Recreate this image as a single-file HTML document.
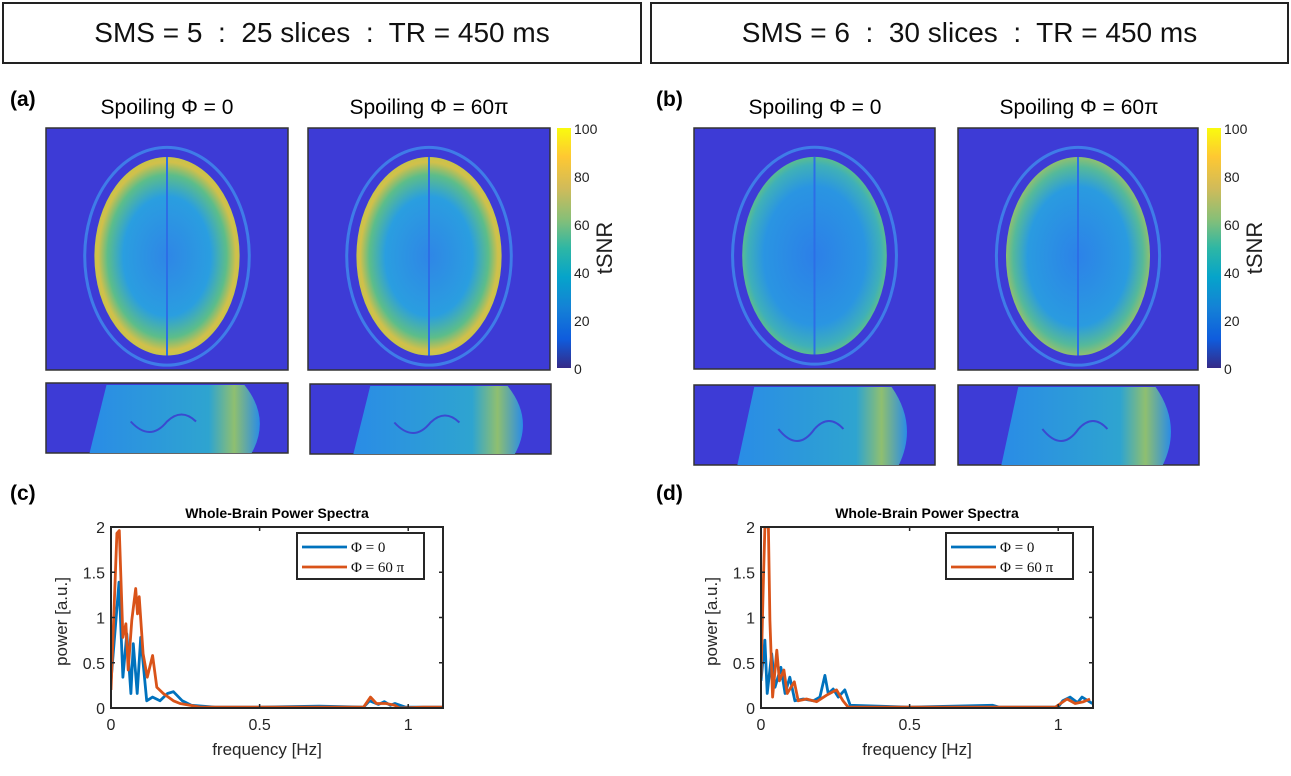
<!DOCTYPE html>
<html><head><meta charset="utf-8"><style>
body{margin:0;background:#fff;width:1291px;height:776px;overflow:hidden;font-family:"Liberation Sans",sans-serif;position:relative}
.hdr{position:absolute;top:2px;height:58px;border:2px solid #222;font-size:28px;display:flex;align-items:center;justify-content:center;white-space:pre;color:#111}
.lab{position:absolute;font-weight:bold;font-size:21px}
.st{position:absolute;font-size:21px;width:242px;text-align:center}
svg{position:absolute;left:0;top:0}
</style></head><body>
<div class="hdr" style="left:2px;width:636px">SMS = 5  :  25 slices  :  TR = 450 ms</div>
<div class="hdr" style="left:650px;width:635px">SMS = 6  :  30 slices  :  TR = 450 ms</div>
<div class="lab" style="left:10px;top:88px">(a)</div>
<div class="lab" style="left:656px;top:88px">(b)</div>
<div class="lab" style="left:10px;top:482px">(c)</div>
<div class="lab" style="left:656px;top:482px">(d)</div>
<div class="st" style="left:46px;top:96px">Spoiling Φ = 0</div>
<div class="st" style="left:308px;top:96px">Spoiling Φ = 60π</div>
<div class="st" style="left:694px;top:96px">Spoiling Φ = 0</div>
<div class="st" style="left:958px;top:96px">Spoiling Φ = 60π</div>
<svg id="s" width="1291" height="776" xmlns="http://www.w3.org/2000/svg" font-family="Liberation Sans, sans-serif">
<defs>
<linearGradient id="parula" x1="0" y1="1" x2="0" y2="0">
<stop offset="0" stop-color="#352a87"/><stop offset="0.12" stop-color="#0f5cdd"/><stop offset="0.25" stop-color="#1481d6"/><stop offset="0.38" stop-color="#06a4ca"/><stop offset="0.5" stop-color="#2eb7a4"/><stop offset="0.62" stop-color="#87bf77"/><stop offset="0.75" stop-color="#d1bb59"/><stop offset="0.88" stop-color="#fec832"/><stop offset="1" stop-color="#f9fb0e"/></linearGradient>
<radialGradient id="brainA"><stop offset="0" stop-color="#2f86e6"/><stop offset="0.6" stop-color="#2a9ee0"/><stop offset="0.82" stop-color="#5cbd8a"/><stop offset="0.95" stop-color="#d2c04a"/><stop offset="1" stop-color="#c8c44a"/></radialGradient>
<radialGradient id="brainB"><stop offset="0" stop-color="#2c7fe8"/><stop offset="0.7" stop-color="#2a95e2"/><stop offset="0.92" stop-color="#3fb0b8"/><stop offset="1" stop-color="#5abd90"/></radialGradient>
<radialGradient id="brainC"><stop offset="0" stop-color="#2c82e8"/><stop offset="0.7" stop-color="#2a9be0"/><stop offset="0.9" stop-color="#55b99a"/><stop offset="1" stop-color="#8fc070"/></radialGradient>
<linearGradient id="sag" x1="0" x2="1"><stop offset="0" stop-color="#2a8ce6"/><stop offset="0.7" stop-color="#2ea4d0"/><stop offset="0.85" stop-color="#8fbf70"/><stop offset="1" stop-color="#2a8ce6"/></linearGradient>
</defs>
<g id="imgs"></g>
<g id="charts"></g>
</svg>
<script>
// Chart data (c): SMS=5
const freqC0=[0,0.027,0.04,0.053,0.067,0.075,0.088,0.1,0.12,0.14,0.165,0.19,0.21,0.24,0.27,0.35,0.5,0.7,0.85,0.87,0.9,0.92,0.94,0.955,0.99,1.05,1.117];
const powC0=[0.3,1.39,0.34,0.82,0.16,0.71,0.16,0.78,0.08,0.12,0.08,0.16,0.18,0.08,0.03,0.01,0.01,0.02,0.01,0.08,0.04,0.07,0.03,0.05,0.01,0.01,0.01];
const freqC1=[0,0.02,0.028,0.04,0.05,0.058,0.07,0.083,0.089,0.095,0.108,0.122,0.14,0.154,0.176,0.21,0.232,0.3,0.5,0.7,0.85,0.873,0.893,0.925,0.955,0.97,1.05,1.117];
const powC1=[0.2,1.93,1.96,0.78,0.93,0.42,0.97,1.32,1.04,1.23,0.6,0.34,0.58,0.23,0.16,0.08,0.05,0.01,0.01,0.01,0.01,0.12,0.05,0.05,0.03,0.0,0.01,0.01];
// Chart data (d): SMS=6
const freqD0=[0,0.013,0.021,0.036,0.047,0.067,0.081,0.097,0.114,0.142,0.176,0.198,0.215,0.226,0.243,0.26,0.282,0.3,0.5,0.78,0.8,1.0,1.015,1.04,1.065,1.08,1.115];
const powD0=[0.3,0.75,0.16,0.6,0.23,0.45,0.16,0.34,0.08,0.1,0.08,0.12,0.36,0.16,0.21,0.12,0.2,0.03,0.01,0.03,0.01,0.01,0.08,0.12,0.06,0.12,0.05];
const freqD1=[0,0.008,0.013,0.025,0.03,0.039,0.053,0.062,0.077,0.088,0.112,0.125,0.153,0.187,0.22,0.254,0.276,0.293,0.5,0.99,1.03,1.057,1.085,1.107];
const powD1=[0.34,1.41,2.0,2.0,0.97,0.12,0.64,0.3,0.42,0.16,0.29,0.08,0.1,0.07,0.14,0.2,0.08,0.01,0.01,0.01,0.1,0.05,0.07,0.1];
const yTicks=[0,0.5,1,1.5,2];
const xTicks=[0,0.5,1];
const xTickLabels=["0","0.5","1"];
const yTickLabels=["0","0.5","1","1.5","2"];
const cbTicks=[0,20,40,60,80,100];
const legendLabels=["Φ = 0","Φ = 60  π"];
const NS="http://www.w3.org/2000/svg";
function mk(tag,attrs,parent,txt){const e=document.createElementNS(NS,tag);for(const k in attrs)e.setAttribute(k,attrs[k]);if(txt!==undefined)e.textContent=txt;parent.appendChild(e);return e;}
const imgs=document.getElementById('imgs');
function axial(x,y,w,h,grad,name){
  const g=mk('g',{},imgs);
  
  
  mk('rect',{x:x,y:y,width:w,height:h,fill:'#3d3bd6',stroke:'#333','stroke-width':1.5},g);
  const cx=x+w/2,cy=y+h*0.53;
  mk('ellipse',{cx:cx,cy:cy,rx:w*0.34,ry:h*0.45,fill:'none',stroke:'#3f7ce8','stroke-width':3},g);
  mk('ellipse',{cx:cx,cy:cy,rx:w*0.3,ry:h*0.41,fill:'url(#'+grad+')'},g);
  mk('line',{x1:cx,y1:cy-h*0.41,x2:cx,y2:cy+h*0.41,stroke:'#2c6ee6','stroke-width':2},g);
}
function sag(x,y,w,h,name){
  const g=mk('g',{},imgs);
  
  
  mk('rect',{x:x,y:y,width:w,height:h,fill:'#3d3bd6',stroke:'#333','stroke-width':1.5},g);
  mk('path',{d:`M${x+w*0.18} ${y+h} L${x+w*0.25} ${y+2} L${x+w*0.82} ${y+2} Q${x+w*0.93} ${y+h*0.5} ${x+w*0.85} ${y+h} Z`,fill:'url(#sag)'},g);
  mk('path',{d:`M${x+w*0.35} ${y+h*0.55} q${w*0.08} ${h*0.3} ${w*0.15} 0 q${w*0.06} -${h*0.2} ${w*0.12} 0`,fill:'none',stroke:'#3a4ad0','stroke-width':2},g);
}
axial(46,128,242,242,'brainA','axial-a-phi0');
axial(308,128,242,242,'brainA','axial-a-phi60');
axial(694,128,241,241,'brainB','axial-b-phi0');
axial(958,128,240,242,'brainC','axial-b-phi60');
sag(46,383,242,70,'sagittal-a-phi0');
sag(310,384,241,70,'sagittal-a-phi60');
sag(694,385,241,80,'sagittal-b-phi0');
sag(958,385,241,80,'sagittal-b-phi60');
function colorbar(x,name){
  const g=mk('g',{},imgs);
  
  
  const y0=128,y1=368;
  mk('rect',{x:x,y:y0,width:14,height:y1-y0,fill:'url(#parula)'},g);
  cbTicks.forEach(t=>{const yy=y1-(t/100)*(y1-y0);
    const tx=mk('text',{x:x+17,y:yy+6,'font-size':14,fill:'#222'},g,String(t));
    
    });
  const l=mk('text',{x:0,y:0,'font-size':22,fill:'#222',transform:`translate(${x+55},248) rotate(-90)`,'text-anchor':'middle'},g,'tSNR');
  
  
}
colorbar(557,'colorbar-a');
colorbar(1207,'colorbar-b');

const charts=document.getElementById('charts');
function chart(L,R,xmax,f0,p0,f1,p1,leg,name){
  const T=527,B=708;
  const g=mk('g',{},charts);
  
  
  const sx=f=>L+f/xmax*(R-L), sy=p=>B-p/2*(B-T);
  const clip='clip'+name;
  const cp=mk('clipPath',{id:clip},g);mk('rect',{x:L,y:T,width:R-L,height:B-T},cp);
  const t=mk('text',{x:(L+R)/2,y:T-9,'font-size':14,'font-weight':'bold','text-anchor':'middle'},g,'Whole-Brain Power Spectra');
  
  
  const ser=[[f0,p0,'#0072bd','series-phi0'],[f1,p1,'#d95319','series-phi60']];
  ser.forEach(s=>{const pts=s[0].map((f,i)=>sx(f).toFixed(1)+','+sy(s[1][i]).toFixed(1)).join(' ');
    const pl=mk('polyline',{points:pts,fill:'none',stroke:s[2],'stroke-width':2.8,'stroke-linejoin':'round','clip-path':'url(#'+clip+')'},g);
    
    });
  mk('rect',{x:L,y:T,width:R-L,height:B-T,fill:'none',stroke:'#262626','stroke-width':2},g);
  yTicks.forEach((v,i)=>{const yy=sy(v);
    mk('line',{x1:L,x2:L+4,y1:yy,y2:yy,stroke:'#262626','stroke-width':1.5},g);
    mk('line',{x1:R,x2:R-4,y1:yy,y2:yy,stroke:'#262626','stroke-width':1.5},g);
    const tl=mk('text',{x:L-6,y:yy+6,'font-size':16,'text-anchor':'end',fill:'#262626'},g,yTickLabels[i]);
    
    });
  xTicks.forEach((v,i)=>{const xx=sx(v);
    mk('line',{x1:xx,x2:xx,y1:B,y2:B-4,stroke:'#262626','stroke-width':1.5},g);
    mk('line',{x1:xx,x2:xx,y1:T,y2:T+4,stroke:'#262626','stroke-width':1.5},g);
    const tl=mk('text',{x:xx,y:B+22,'font-size':16,'text-anchor':'middle',fill:'#262626'},g,xTickLabels[i]);
    
    });
  const xl=mk('text',{x:(L+R)/2-10,y:B+47,'font-size':17,'text-anchor':'middle',fill:'#262626','xml:space':'preserve'},g,'frequency  [Hz]');
  
  
  const yl=mk('text',{x:0,y:0,'font-size':17,'text-anchor':'middle',fill:'#262626',transform:`translate(${L-44},${(T+B)/2+4}) rotate(-90)`},g,'power  [a.u.]');
  
  
  const lg=mk('g',{},g);
  
  
  mk('rect',{x:leg,y:533,width:127,height:46,fill:'#fff',stroke:'#262626','stroke-width':2},lg);
  ser.forEach((s,i)=>{const yy=547+i*20;
    mk('line',{x1:leg+5,x2:leg+50,y1:yy,y2:yy,stroke:s[2],'stroke-width':2.8},lg);
    const e=mk('text',{x:leg+54,y:yy+5,'font-size':15,fill:'#111','font-family':'Liberation Serif, serif'},lg,legendLabels[i]);
    
    });
}
chart(111,443,1.117,freqC0,powC0,freqC1,powC1,297,'chart-c');
chart(761,1093,1.117,freqD0,powD0,freqD1,powD1,946,'chart-d');
</script>
</body></html>
